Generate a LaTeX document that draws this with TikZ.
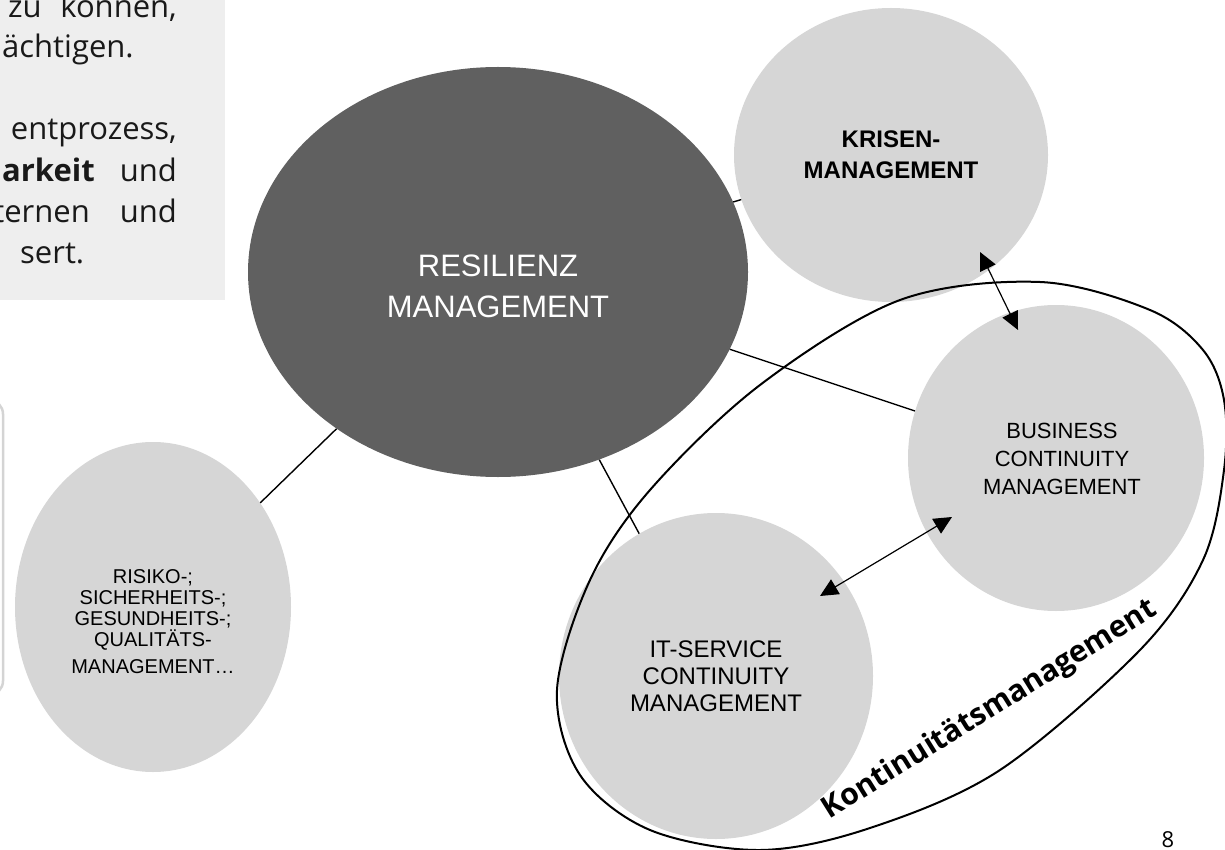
\documentclass[tikz,border=0pt]{standalone}
\usepackage{fontspec}
\setmainfont{Liberation Sans}
\newfontfamily\notofont{Open Sans}
\usetikzlibrary{shapes.geometric,arrows.meta}
\definecolor{lgray}{HTML}{D6D6D6}
\definecolor{dgray}{HTML}{606060}
\definecolor{boxgray}{HTML}{EEEEEE}
\definecolor{edgegray}{HTML}{D4D4D4}
\begin{document}
\begin{tikzpicture}[x=1pt,y=-1pt,
  bub/.style={ellipse, fill=lgray, inner sep=0pt, align=center, text=black},
  lbl/.style={inner sep=0pt, align=center},
  conn/.style={line width=1.4pt, draw=black},
  dbl/.style={line width=1.2pt, {Triangle[length=18pt,width=17pt]}-{Triangle[length=18pt,width=17pt]}},
  lefttxt/.style={font=\notofont\fontsize{31}{38}\selectfont, inner sep=0pt, text=black!90}]
\useasboundingbox (0,0) rectangle (1225,850);
% text panel (cut at the left)
\fill[boxgray] (0,0) rectangle (225,300);
\node[lefttxt, anchor=base west] (t1a) at (8,18) {zu};
\node[lefttxt, anchor=base east] (t1b) at (177,18) {können,};
\node[lefttxt, anchor=base west] (t2) at (2,58) {ächtigen.};
\node[lefttxt, anchor=base east] (t3) at (177,140) {entprozess,};
\node[lefttxt, anchor=base east] (t4a) at (95,182) {\bfseries arkeit};
\node[lefttxt, anchor=base east] (t4b) at (177,182) {und};
\node[lefttxt, anchor=base east] (t5a) at (90,223) {ternen};
\node[lefttxt, anchor=base east] (t5b) at (177,223) {und};
\node[lefttxt, anchor=base west] (t6) at (20,263) {sert.};
% edge of a second panel
\draw[line width=2.5pt, draw=edgegray, rounded corners=14pt] (-40,400) -- (3,400) -- (3,695) -- (-40,695);
% bubbles
\node[bub, minimum width=276pt, minimum height=330pt] (ris) at (153,607) {};
\node[lbl, font=\fontsize{20}{21}\selectfont] (rislbl) at (153,622)
  {RISIKO-;\\SICHERHEITS-;\\GESUNDHEITS-;\\QUALITÄTS-\\[6pt]MANAGEMENT…};
\node[ellipse, fill=dgray, inner sep=0pt, minimum width=500pt, minimum height=410pt] (res) at (498,272) {};
\node[lbl, text=white, font=\fontsize{31}{41}\selectfont] (reslbl) at (498,286) {RESILIENZ\\MANAGEMENT};
\node[bub, minimum width=314pt, minimum height=294pt, font=\bfseries\fontsize{24}{31}\selectfont] (kri) at (891,155)
  {KRISEN-\\MANAGEMENT};
\node[bub, minimum width=296pt, minimum height=306pt] (bcm) at (1056,458) {};
\node[lbl, font=\fontsize{22}{28}\selectfont] (bcmlbl) at (1062,459) {BUSINESS\\CONTINUITY\\MANAGEMENT};
\node[bub, minimum width=314pt, minimum height=326pt, font=\fontsize{24}{27}\selectfont] (its) at (716,676)
  {IT-SERVICE\\CONTINUITY\\MANAGEMENT};
% connectors
\draw[conn] (res) -- (kri);
\draw[conn] (res) -- (bcm);
\draw[conn] (res) -- (its);
\draw[conn] (res) -- (ris);
% Kontinuitaetsmanagement outline
\draw[line width=2pt] plot[smooth cycle, tension=0.55] coordinates {(557,690) (590,580) (650,490) (760,385) (900,300) (1040,282) (1150,310) (1203,350) (1224,400) (1224,470) (1203,560) (1140,650) (1000,770) (870,828) (760,850) (650,830) (580,775)};
\node[rotate=32, font=\notofont\bfseries\fontsize{30}{30}\selectfont, inner sep=0pt] (kont) at (990,710) {Kontinuitätsmanagement};
% double arrows
\coordinate (a1) at (980,252);
\coordinate (a2) at (1018,330);
\draw[dbl] (a1) -- (a2);
\coordinate (b1) at (952,517);
\coordinate (b2) at (820,596);
\draw[dbl] (b1) -- (b2);
% page number
\node[font=\notofont\fontsize{22}{22}\selectfont, anchor=base, inner sep=0pt] (pg) at (1168,847) {8};
\end{tikzpicture}
\end{document}
